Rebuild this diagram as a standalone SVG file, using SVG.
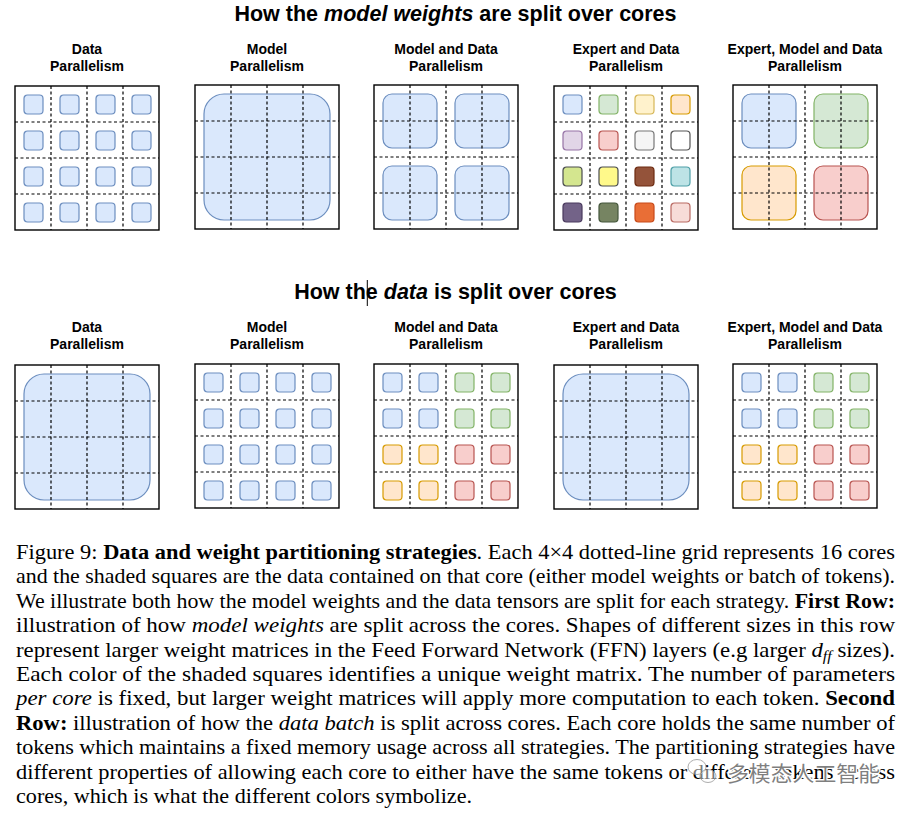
<svg xmlns="http://www.w3.org/2000/svg" xmlns:xlink="http://www.w3.org/1999/xlink" width="907" height="813" viewBox="0 0 907 813">
<style>
.title{font-family:"Liberation Sans",Arial,sans-serif;font-weight:bold;font-size:21.5px;fill:#000;text-anchor:middle}
.sub{font-family:"Liberation Sans",Arial,sans-serif;font-weight:bold;font-size:14px;fill:#000;text-anchor:middle}
.cap{font-family:"Liberation Serif","Times New Roman",serif;font-size:21.5px;fill:#000}
.box{fill:none;stroke:#000;stroke-width:1.4}
.dash{stroke:#000;stroke-width:1.2;stroke-dasharray:3 2.5;fill:none}
.b{fill:#dae8fc;stroke:#6c8ebf}
.g{fill:#d5e8d4;stroke:#82b366}
.o{fill:#ffe6cc;stroke:#d79b00}
.r{fill:#f8cecc;stroke:#b85450}
.y{fill:#fff2cc;stroke:#d6b656}
.p{fill:#e1d5e7;stroke:#9673a6}
.gr{fill:#f5f5f5;stroke:#777}
.w{fill:#fff;stroke:#555}
.lime{fill:#d4e68f;stroke:#4a4c4f}
.ye{fill:#fff98a;stroke:#4a4c4f}
.si{fill:#94533a;stroke:#6d2a10}
.te{fill:#bde3e6;stroke:#4fa0a8}
.dp{fill:#736388;stroke:#4a3a5e}
.ol{fill:#768462;stroke:#45573c}
.or{fill:#e96e36;stroke:#c84a1a}
.pk{fill:#f7dcd8;stroke:#b96a63}
.sh{stroke-width:1.2}
.wm{font-family:"Noto Sans CJK SC",sans-serif;font-size:21px;fill:#555;fill-opacity:0.75;stroke:#fff;stroke-width:2.5;paint-order:stroke}
</style>
<defs>
<g id="gl">
<line class="dash" x1="36" y1="0" x2="36" y2="144"/>
<line class="dash" x1="72" y1="0" x2="72" y2="144"/>
<line class="dash" x1="108" y1="0" x2="108" y2="144"/>
<line class="dash" x1="0" y1="36" x2="144" y2="36"/>
<line class="dash" x1="0" y1="72" x2="144" y2="72"/>
<line class="dash" x1="0" y1="108" x2="144" y2="108"/>
</g>
<rect id="frame" class="box" width="144" height="144"/>
<rect id="sq" class="sh" width="19" height="19" rx="3.5"/>
<rect id="mid" class="sh" width="54" height="54" rx="9"/>
<rect id="big" class="sh" x="9" y="9" width="126" height="126" rx="20"/>
<g id="sqblue">
<use href="#sq" class="b" x="9" y="9"/><use href="#sq" class="b" x="45" y="9"/><use href="#sq" class="b" x="81" y="9"/><use href="#sq" class="b" x="117" y="9"/>
<use href="#sq" class="b" x="9" y="45"/><use href="#sq" class="b" x="45" y="45"/><use href="#sq" class="b" x="81" y="45"/><use href="#sq" class="b" x="117" y="45"/>
<use href="#sq" class="b" x="9" y="81"/><use href="#sq" class="b" x="45" y="81"/><use href="#sq" class="b" x="81" y="81"/><use href="#sq" class="b" x="117" y="81"/>
<use href="#sq" class="b" x="9" y="117"/><use href="#sq" class="b" x="45" y="117"/><use href="#sq" class="b" x="81" y="117"/><use href="#sq" class="b" x="117" y="117"/>
</g>
<g id="sqquad">
<use href="#sq" class="b" x="9" y="9"/><use href="#sq" class="b" x="45" y="9"/><use href="#sq" class="g" x="81" y="9"/><use href="#sq" class="g" x="117" y="9"/>
<use href="#sq" class="b" x="9" y="45"/><use href="#sq" class="b" x="45" y="45"/><use href="#sq" class="g" x="81" y="45"/><use href="#sq" class="g" x="117" y="45"/>
<use href="#sq" class="o" x="9" y="81"/><use href="#sq" class="o" x="45" y="81"/><use href="#sq" class="r" x="81" y="81"/><use href="#sq" class="r" x="117" y="81"/>
<use href="#sq" class="o" x="9" y="117"/><use href="#sq" class="o" x="45" y="117"/><use href="#sq" class="r" x="81" y="117"/><use href="#sq" class="r" x="117" y="117"/>
</g>
</defs>
<rect width="907" height="813" fill="#fff"/>

<text class="title" x="455.5" y="21">How the <tspan font-style="italic">model weights</tspan> are split over cores</text>
<text class="title" x="455.5" y="299">How the <tspan font-style="italic">data</tspan> is split over cores</text>
<line x1="367.3" y1="280" x2="367.3" y2="306" stroke="#000" stroke-width="1"/>

<g id="connectors"/>

<!-- Row 1 -->
<g id="w-data">
<text class="sub" x="87" y="54">Data</text><text class="sub" x="87" y="71">Parallelism</text>
<g transform="translate(15,86)"><use href="#sqblue"/><use href="#frame"/><use href="#gl"/></g>
</g>
<g id="w-model">
<text class="sub" x="267" y="54">Model</text><text class="sub" x="267" y="71">Parallelism</text>
<g transform="translate(195,85)"><use href="#big" class="b"/><use href="#frame"/><use href="#gl"/></g>
</g>
<g id="w-modeldata">
<text class="sub" x="446" y="54">Model and Data</text><text class="sub" x="446" y="71">Parallelism</text>
<g transform="translate(374,85)">
<use href="#mid" class="b" x="9" y="9"/><use href="#mid" class="b" x="81" y="9"/>
<use href="#mid" class="b" x="9" y="81"/><use href="#mid" class="b" x="81" y="81"/>
<use href="#frame"/><use href="#gl"/></g>
</g>
<g id="w-expertdata">
<text class="sub" x="626" y="54">Expert and Data</text><text class="sub" x="626" y="71">Parallelism</text>
<g transform="translate(554,86)">
<use href="#sq" class="b" x="9" y="9"/><use href="#sq" class="g" x="45" y="9"/><use href="#sq" class="y" x="81" y="9"/><use href="#sq" class="o" x="117" y="9"/>
<use href="#sq" class="p" x="9" y="45"/><use href="#sq" class="r" x="45" y="45"/><use href="#sq" class="gr" x="81" y="45"/><use href="#sq" class="w" x="117" y="45"/>
<use href="#sq" class="lime" x="9" y="81"/><use href="#sq" class="ye" x="45" y="81"/><use href="#sq" class="si" x="81" y="81"/><use href="#sq" class="te" x="117" y="81"/>
<use href="#sq" class="dp" x="9" y="117"/><use href="#sq" class="ol" x="45" y="117"/><use href="#sq" class="or" x="81" y="117"/><use href="#sq" class="pk" x="117" y="117"/>
<use href="#frame"/><use href="#gl"/></g>
</g>
<g id="w-expertmodeldata">
<text class="sub" x="805" y="54">Expert, Model and Data</text><text class="sub" x="805" y="71">Parallelism</text>
<g transform="translate(733,85)">
<use href="#mid" class="b" x="9" y="9"/><use href="#mid" class="g" x="81" y="9"/>
<use href="#mid" class="o" x="9" y="81"/><use href="#mid" class="r" x="81" y="81"/>
<use href="#frame"/><use href="#gl"/></g>
</g>

<!-- Row 2 -->
<g id="d-data">
<text class="sub" x="87" y="332">Data</text><text class="sub" x="87" y="349">Parallelism</text>
<g transform="translate(15,365)"><use href="#big" class="b"/><use href="#frame"/><use href="#gl"/></g>
</g>
<g id="d-model">
<text class="sub" x="267" y="332">Model</text><text class="sub" x="267" y="349">Parallelism</text>
<g transform="translate(195,364)"><use href="#sqblue"/><use href="#frame"/><use href="#gl"/></g>
</g>
<g id="d-modeldata">
<text class="sub" x="446" y="332">Model and Data</text><text class="sub" x="446" y="349">Parallelism</text>
<g transform="translate(374,364)"><use href="#sqquad"/><use href="#frame"/><use href="#gl"/></g>
</g>
<g id="d-expertdata">
<text class="sub" x="626" y="332">Expert and Data</text><text class="sub" x="626" y="349">Parallelism</text>
<g transform="translate(554,365)"><use href="#big" class="b"/><use href="#frame"/><use href="#gl"/></g>
</g>
<g id="d-expertmodeldata">
<text class="sub" x="805" y="332">Expert, Model and Data</text><text class="sub" x="805" y="349">Parallelism</text>
<g transform="translate(733,364)"><use href="#sqquad"/><use href="#frame"/><use href="#gl"/></g>
</g>

<!-- Caption -->
<g id="caption">
<text class="cap" x="16" y="559" textLength="879" lengthAdjust="spacingAndGlyphs">Figure 9: <tspan font-weight="bold">Data and weight partitioning strategies</tspan>. Each 4×4 dotted-line grid represents 16 cores</text>
<text class="cap" x="16" y="583.4" textLength="879" lengthAdjust="spacingAndGlyphs">and the shaded squares are the data contained on that core (either model weights or batch of tokens).</text>
<text class="cap" x="16" y="607.8" textLength="879" lengthAdjust="spacingAndGlyphs">We illustrate both how the model weights and the data tensors are split for each strategy. <tspan font-weight="bold">First Row:</tspan></text>
<text class="cap" x="16" y="632.2" textLength="879" lengthAdjust="spacingAndGlyphs">illustration of how <tspan font-style="italic">model weights</tspan> are split across the cores.  Shapes of different sizes in this row</text>
<text class="cap" x="16" y="656.6" textLength="879" lengthAdjust="spacingAndGlyphs">represent larger weight matrices in the Feed Forward Network (FFN) layers (e.g larger <tspan font-style="italic">d</tspan><tspan font-style="italic" font-size="15" dy="4">ff</tspan><tspan dy="-4"> sizes).</tspan></text>
<text class="cap" x="16" y="681" textLength="879" lengthAdjust="spacingAndGlyphs">Each color of the shaded squares identifies a unique weight matrix.  The number of parameters</text>
<text class="cap" x="16" y="705.4" textLength="879" lengthAdjust="spacingAndGlyphs"><tspan font-style="italic">per core</tspan> is fixed, but larger weight matrices will apply more computation to each token.  <tspan font-weight="bold">Second</tspan></text>
<text class="cap" x="16" y="729.8" textLength="879" lengthAdjust="spacingAndGlyphs"><tspan font-weight="bold">Row:</tspan> illustration of how the <tspan font-style="italic">data batch</tspan> is split across cores. Each core holds the same number of</text>
<text class="cap" x="16" y="754.2" textLength="879" lengthAdjust="spacingAndGlyphs">tokens which maintains a fixed memory usage across all strategies. The partitioning strategies have</text>
<text class="cap" x="16" y="778.6" textLength="879" lengthAdjust="spacingAndGlyphs">different properties of allowing each core to either have the same tokens or different tokens across</text>
<text class="cap" x="16" y="803" textLength="456" lengthAdjust="spacingAndGlyphs">cores, which is what the different colors symbolize.</text>
</g>

<!-- Watermark -->
<g id="watermark">
<g fill="none" stroke="#999" stroke-width="1" opacity="0.8">
<ellipse cx="697" cy="767" rx="9" ry="7.5" fill="#fff" fill-opacity="0.6"/>
<ellipse cx="708" cy="776" rx="8" ry="6.5" fill="#fff" fill-opacity="0.6"/>
</g>
<text class="wm" x="727" y="781" textLength="153" lengthAdjust="spacingAndGlyphs">多模态人工智能</text>
</g>
</svg>
